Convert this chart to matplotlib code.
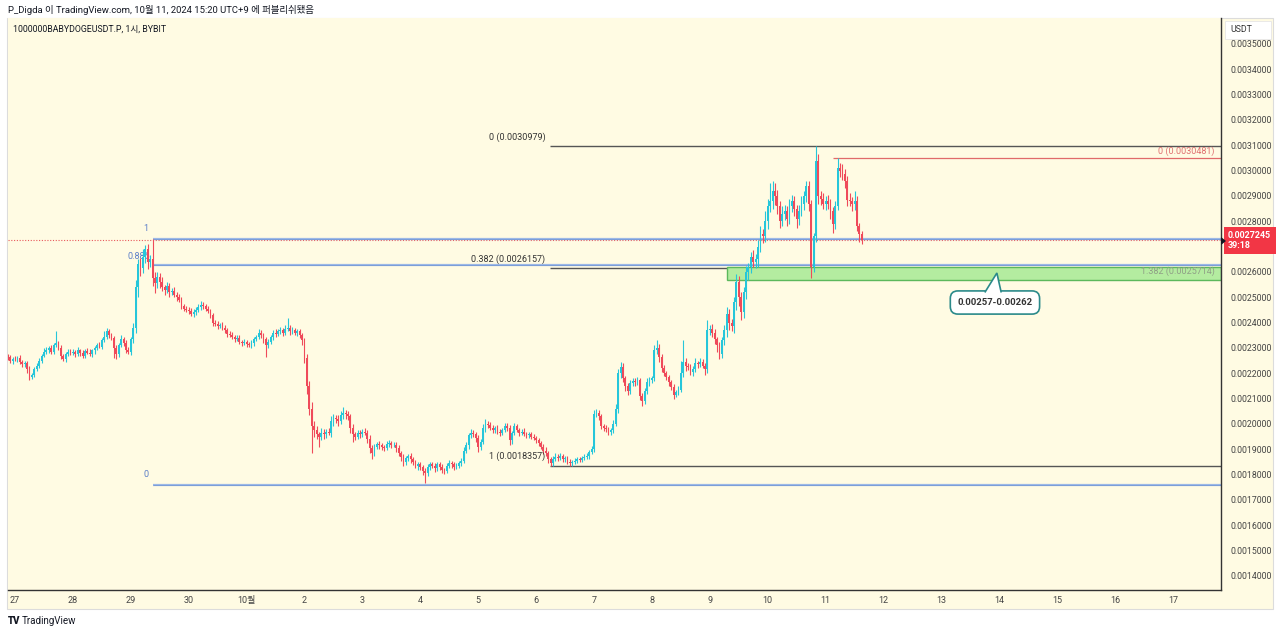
import numpy as np
import matplotlib
matplotlib.use('Agg')
import matplotlib.pyplot as plt
from matplotlib.patches import Rectangle, Polygon

plt.rcParams['font.family'] = ['Roboto', 'Noto Sans CJK KR', 'DejaVu Sans']

# ---------------- data (prices in 1e-6 USDT, hourly candles from 26 Sep 21:00) ----------------
first_open = 2270
closes = [
    2264, 2250, 2258, 2255, 2262, 2245, 2235, 2240, 2215, 2185, 2195, 2215, 2230, 2250, 2270, 2285, 2292, 2300, 2285, 2310, 2318, 2300, 2270, 2255, 2275, 2285, 2280,
    2285, 2275, 2290, 2280, 2270, 2288, 2282, 2275, 2290, 2300, 2310, 2304, 2330, 2345, 2365, 2350, 2340, 2300, 2275, 2310, 2335, 2320, 2290, 2285,
    2335, 2380, 2540, 2630, 2615, 2660, 2690, 2640, 2650, 2575, 2555, 2580, 2560, 2540, 2530, 2545, 2520, 2525, 2510, 2500, 2490, 2465, 2455, 2450,
    2445, 2435, 2440, 2450, 2460, 2470, 2465, 2455, 2445, 2430, 2400, 2395, 2385, 2390, 2380, 2370, 2355, 2350, 2345, 2335, 2340, 2325, 2320, 2325,
    2315, 2310, 2320, 2335, 2345, 2360, 2350, 2335, 2310, 2325, 2345, 2360, 2355, 2365, 2370, 2360, 2375, 2380, 2365, 2370, 2360, 2365, 2350, 2330,
    2260, 2150, 2060, 1990, 1975, 1960, 1950, 1965, 1960, 1970, 1965, 2010, 2025, 2020, 2010, 2035, 2045, 2040, 2030, 1985, 1960, 1950, 1965, 1960,
    1970, 1965, 1940, 1905, 1885, 1910, 1920, 1915, 1910, 1905, 1920, 1925, 1915, 1918, 1905, 1885, 1870, 1850, 1865, 1875, 1860, 1850, 1835, 1840,
    1830, 1815, 1805, 1830, 1840, 1835, 1825, 1840, 1830, 1820, 1815, 1835, 1845, 1840, 1830, 1835, 1845, 1855, 1895, 1915, 1955, 1965, 1960, 1945,
    1910, 1930, 1985, 2000, 1995, 1985, 1975, 1985, 1970, 1965, 1975, 1990, 1985, 1935, 1965, 1990, 1975, 1965, 1970, 1960, 1955, 1960, 1950, 1945,
    1935, 1925, 1910, 1895, 1885, 1860, 1845, 1860, 1870, 1865, 1875, 1860, 1865, 1850, 1845, 1850, 1855, 1860, 1858, 1865, 1870, 1875, 1890, 1900,
    2040, 2045, 2030, 1990, 1985, 1980, 1970, 1975, 2000, 2060, 2200, 2225, 2180, 2150, 2130, 2160, 2170, 2165, 2175, 2110, 2090, 2130, 2165, 2175,
    2180, 2290, 2300, 2265, 2220, 2200, 2185, 2165, 2145, 2115, 2125, 2135, 2200, 2245, 2230, 2225, 2205, 2215, 2240, 2235, 2245, 2230, 2215, 2370,
    2375, 2360, 2335, 2310, 2275, 2330, 2370, 2435, 2400, 2385, 2480, 2560, 2500, 2440, 2520, 2600, 2620, 2660, 2640, 2650, 2700, 2750, 2740, 2800,
    2860, 2880, 2920, 2900, 2860, 2800, 2830, 2840, 2810, 2860, 2880, 2850, 2810, 2840, 2870, 2900, 2940, 2870, 2620, 2740, 3040, 2900, 2890, 2870,
    2880, 2870, 2840, 2790, 2860, 3010, 3000, 2985, 2960, 2885, 2880, 2870, 2880, 2780, 2750, 2724.5,
]
wick_up = [
    8, 10, 6, 12, 8, 10, 6, 8, 10, 12, 6, 8, 10, 12, 8, 14, 10, 8, 12, 10, 50, 8, 10, 6, 8, 12, 10,
    10, 8, 12, 6, 10, 8, 10, 12, 6, 8, 10, 12, 8, 20, 15, 10, 8, 6, 12, 10, 15, 8, 10, 12,
    10, 20, 30, 20, 25, 30, 16, 20, 15, 80, 25, 20, 15, 20, 10, 15, 12, 10, 15, 10, 12, 10, 8, 12,
    10, 12, 15, 10, 12, 15, 10, 8, 12, 10, 8, 12, 10, 8, 12, 10, 8, 10, 12, 8, 10, 12, 8, 10,
    8, 10, 12, 10, 8, 15, 10, 8, 10, 12, 8, 10, 15, 10, 12, 10, 15, 38, 10, 12, 10, 8, 10, 8,
    10, 15, 20, 25, 20, 15, 10, 20, 15, 10, 15, 20, 15, 10, 15, 15, 22, 10, 12, 10, 15, 10, 12, 10,
    10, 12, 10, 15, 12, 10, 8, 12, 10, 8, 12, 10, 8, 10, 12, 10, 8, 12, 10, 8, 12, 10, 8, 10,
    10, 8, 12, 10, 8, 10, 12, 8, 10, 12, 8, 10, 12, 8, 10, 12, 8, 10, 15, 12, 10, 15, 12, 10,
    10, 12, 15, 20, 10, 12, 10, 8, 12, 10, 8, 15, 12, 10, 8, 12, 10, 8, 10, 12, 8, 10, 8, 10,
    8, 10, 8, 10, 12, 10, 8, 12, 15, 10, 12, 8, 10, 8, 10, 8, 10, 8, 10, 8, 12, 10, 8, 12,
    15, 12, 10, 8, 10, 12, 8, 10, 15, 20, 15, 20, 15, 10, 12, 15, 10, 12, 10, 8, 12, 10, 15, 12,
    10, 20, 30, 15, 10, 12, 10, 8, 10, 12, 10, 15, 50, 85, 15, 10, 12, 15, 20, 10, 15, 12, 10, 40,
    15, 20, 15, 10, 12, 15, 20, 25, 20, 15, 20, 30, 25, 20, 20, 25, 15, 20, 25, 20, 25, 30, 20, 40,
    30, 70, 40, 30, 25, 20, 30, 25, 20, 30, 25, 20, 15, 25, 30, 20, 20, 20, 15, 15, 58, 25, 20, 20,
    20, 25, 20, 15, 20, 38, 20, 25, 20, 20, 25, 15, 40, 20, 15, 10,
]
wick_dn = [
    10, 8, 12, 6, 10, 8, 12, 10, 14, 12, 8, 10, 6, 8, 10, 6, 8, 12, 10, 8, 6, 10, 12, 8, 10, 6, 8,
    8, 10, 6, 12, 8, 10, 6, 8, 10, 12, 8, 6, 10, 8, 10, 12, 8, 38, 20, 10, 8, 12, 10, 8,
    12, 15, 20, 40, 30, 20, 25, 30, 20, 30, 40, 20, 25, 15, 20, 15, 20, 12, 10, 15, 10, 12, 10, 8,
    10, 8, 12, 10, 8, 10, 12, 10, 8, 12, 15, 10, 12, 8, 10, 12, 10, 8, 10, 12, 8, 10, 12, 10,
    10, 8, 10, 12, 8, 10, 12, 15, 46, 10, 8, 12, 10, 8, 10, 12, 8, 10, 12, 10, 8, 12, 10, 20,
    20, 30, 25, 105, 25, 20, 40, 15, 20, 15, 10, 15, 20, 15, 20, 10, 15, 20, 15, 20, 30, 15, 10, 15,
    12, 10, 15, 20, 25, 12, 10, 15, 12, 10, 8, 12, 10, 8, 15, 12, 15, 18, 12, 10, 15, 12, 10, 15,
    12, 15, 38, 10, 12, 10, 15, 12, 10, 15, 12, 10, 8, 12, 10, 8, 10, 12, 10, 8, 12, 10, 12, 15,
    20, 12, 10, 15, 12, 10, 12, 10, 8, 12, 10, 8, 12, 20, 15, 10, 8, 12, 10, 8, 10, 12, 10, 8,
    10, 12, 10, 12, 10, 15, 12, 10, 8, 10, 8, 12, 10, 8, 12, 10, 8, 10, 8, 10, 8, 10, 12, 10,
    10, 12, 15, 10, 12, 10, 15, 12, 10, 8, 15, 20, 15, 20, 15, 10, 12, 15, 10, 15, 20, 12, 10, 15,
    12, 10, 15, 20, 15, 12, 10, 15, 12, 15, 10, 12, 10, 15, 20, 12, 10, 15, 10, 15, 12, 10, 20, 15,
    20, 15, 20, 25, 20, 15, 20, 25, 30, 20, 25, 30, 35, 30, 20, 25, 30, 25, 20, 25, 30, 20, 25, 20,
    30, 25, 30, 35, 30, 25, 20, 25, 30, 20, 25, 30, 35, 25, 20, 25, 25, 30, 45, 20, 20, 30, 25, 20,
    25, 20, 30, 36, 20, 15, 25, 20, 30, 25, 20, 30, 25, 20, 30, 15,
]

day_labels = ['27', '28', '29', '30', '10월', '2', '3', '4', '5', '6', '7', '8', '9',
              '10', '11', '12', '13', '14', '15', '16', '17']
first_midnight_idx = 3          # candle index of 27 Sep 00:00
price_ticks = [0.0014, 0.0015, 0.0016, 0.0017, 0.0018, 0.0019, 0.0020, 0.0021, 0.0022,
               0.0023, 0.0024, 0.0025, 0.0026, 0.0027, 0.0028, 0.0029, 0.0030, 0.0031,
               0.0032, 0.0033, 0.0034, 0.0035]

last_price = 0.0027245
time_left = '39:18'
fib_blue = {'1': 0.0027300, '0.886': 0.0026275, '0': 0.0017590}
fib_black = {'0 (0.0030979)': 0.0030979, '0.382 (0.0026157)': 0.0026157, '1 (0.0018357)': 0.0018357}
fib_red_0 = 0.0030481
fib_red_1382 = 0.0025714
zone = (0.00257, 0.00262)

# ---------------- figure ----------------
W, H = 1280, 634
fig = plt.figure(figsize=(12.8, 6.34), dpi=100, facecolor='white')
CREAM = '#fffbe3'
fig.patches.append(Rectangle((7 / W, 1 - 609 / H), (1273 - 7) / W, (609 - 18) / H,
                             transform=fig.transFigure, fc=CREAM, ec='#dcdcdc', lw=0.8, zorder=-5))

ax = fig.add_axes([8 / W, 1 - 590 / H, (1221 - 8) / W, (590 - 18) / H])
ax.set_zorder(1)
ax.set_facecolor(CREAM)
XMIN, XMAX = 0.1, 502.9
ax.set_xlim(XMIN, XMAX)
ax.set_ylim(0.0013444, 0.0036026)

c = np.array(closes) * 1e-6
o = np.concatenate([[first_open * 1e-6], c[:-1]])
hi = np.maximum(o, c) + np.array(wick_up) * 1e-6
lo = np.minimum(o, c) - np.array(wick_dn) * 1e-6
x = np.arange(len(c))
UP, DN = '#26c6da', '#ef4a5a'
cols = np.where(c >= o, UP, DN)
ax.vlines(x, lo, hi, colors=cols, lw=0.8, zorder=3)
body = np.maximum(np.abs(c - o), 1.2e-6)
ax.bar(x, body, bottom=np.minimum(o, c), width=0.75, color=cols, lw=0, zorder=4)

# current price dotted line
ax.axhline(last_price, color='#e8585c', lw=0.8, ls=(0, (1, 1.5)), zorder=2)

# blue fib
bx0 = 60.2
for k, v in fib_blue.items():
    ax.hlines(v, bx0, XMAX, color='#9cb8e6', lw=1.6, zorder=2)
    ax.hlines(v, bx0, XMAX, color='#6f93d3', lw=0.5, zorder=2)
ax.annotate('1', (57.3, fib_blue['1']), xytext=(0, 4), textcoords='offset points',
            ha='center', va='bottom', fontsize=6.5, color='#5b7ec8')
ax.annotate('0.886', (59.2, fib_blue['0.886']), xytext=(0, 3), textcoords='offset points',
            ha='right', va='bottom', fontsize=6.5, color='#5b7ec8', zorder=1)
ax.annotate('0', (57.3, fib_blue['0']), xytext=(0, 4), textcoords='offset points',
            ha='center', va='bottom', fontsize=6.5, color='#5b7ec8')

# black fib
kx0 = 224.8
for k, v in fib_black.items():
    ax.hlines(v, kx0, XMAX, color='#555555', lw=1.0, zorder=2)
    ax.annotate(k, (kx0 - 2, v), xytext=(0, 3), textcoords='offset points',
                ha='right', va='bottom', fontsize=6.5, color='#333333')

# green zone
zx0 = 298.1
ax.add_patch(Rectangle((zx0, zone[0]), XMAX - zx0, zone[1] - zone[0],
                       fc='#b4eca0', ec='#5cb85c', lw=1.0, zorder=2.5))

# red fib
rx0 = 342.1
ax.hlines(fib_red_0, rx0, XMAX, color='#e06a6a', lw=0.9, zorder=2)
ax.annotate('0 (0.0030481)', (500.4, fib_red_0), xytext=(0, 2), textcoords='offset points',
            ha='right', va='bottom', fontsize=6.5, color='#e07070')
ax.annotate('1.382 (0.0025714)', (500.4, fib_red_1382), xytext=(0, 2.5), textcoords='offset points',
            ha='right', va='bottom', fontsize=6.5, color='#8f9f86', zorder=3)

# callout
ax.text(409.2, 0.0024794, '0.00257-0.00262', ha='center', va='center', fontsize=6.8,
        fontweight='bold', color='#333333', zorder=10,
        bbox=dict(boxstyle='round,pad=0.75,rounding_size=0.8', fc='white', ec='#2b8a8a', lw=1.2))
ax.add_patch(Polygon([(405.0, 0.0025190), (410.0, 0.0025959), (411.8, 0.0025190)], closed=False,
                     fc='white', ec='#2b8a8a', lw=1.2, zorder=11))

# axes styling
for s in ['top', 'left']:
    ax.spines[s].set_visible(False)
ax.spines['right'].set_color('#333333')
ax.spines['bottom'].set_color('#333333')
ax.spines['right'].set_linewidth(1.0)
ax.spines['bottom'].set_linewidth(1.0)

ax.yaxis.tick_right()
ax.set_yticks(price_ticks)
# the 0.0027000 label sits under the last-price tag, hidden as in the reference
ax.set_yticklabels(['' if abs(v - 0.0027) < 1e-9 else f'{v:.7f}' for v in price_ticks])
ax.tick_params(axis='y', length=0, pad=7, labelsize=6.3, labelcolor='#444444')
ax.set_xticks([first_midnight_idx + 24 * d for d in range(len(day_labels))])
ax.set_xticklabels(day_labels)
ax.tick_params(axis='x', length=0, pad=4, labelsize=6.5, labelcolor='#444444')

# price tag on the right axis
ax.annotate(f'{last_price:.7f}\n{time_left}', (1.0, last_price), xycoords=('axes fraction', 'data'),
            xytext=(5, 0), textcoords='offset points', ha='left', va='center', fontsize=6.4,
            color='white', fontweight='bold', linespacing=1.05, zorder=20, annotation_clip=False,
            bbox=dict(boxstyle='square,pad=0.5', fc='#f23645', ec='none'))
fig.patches.append(Polygon([(1221 / W, 1 - 237 / H), (1226 / W, 1 - 241 / H), (1221 / W, 1 - 245 / H)],
                           closed=True, transform=fig.transFigure, fc='#131722', ec='none', zorder=30))

# USDT box
fig.patches.append(Rectangle((1225 / W, 1 - 39 / H), 46 / W, 18 / H, transform=fig.transFigure,
                             fc='white', ec='#e6e6e6', lw=0.6, zorder=5))
fig.text(1230 / W, 1 - 30 / H, 'USDT', ha='left', va='center', fontsize=6.3, color='#333333', zorder=6)

# header / title / footer
fig.text(8 / W, 1 - 10 / H, 'P_Digda 이 TradingView.com, 10월 11, 2024 15:20 UTC+9 에 퍼블리쉬됐음',
         ha='left', va='center', fontsize=6.8, color='#131722')
fig.text(13 / W, 1 - 29 / H, '1000000BABYDOGEUSDT.P, 1시, BYBIT', ha='left', va='center',
         fontsize=6.3, color='#131722', zorder=6)
fig.text(8 / W, 1 - 621 / H, 'TV', ha='left', va='center', fontsize=7, fontweight='black',
         color='#131722')
fig.text(22 / W, 1 - 621 / H, 'TradingView', ha='left', va='center', fontsize=7, color='#131722')

fig.savefig('out.png', dpi=100, facecolor='white')
